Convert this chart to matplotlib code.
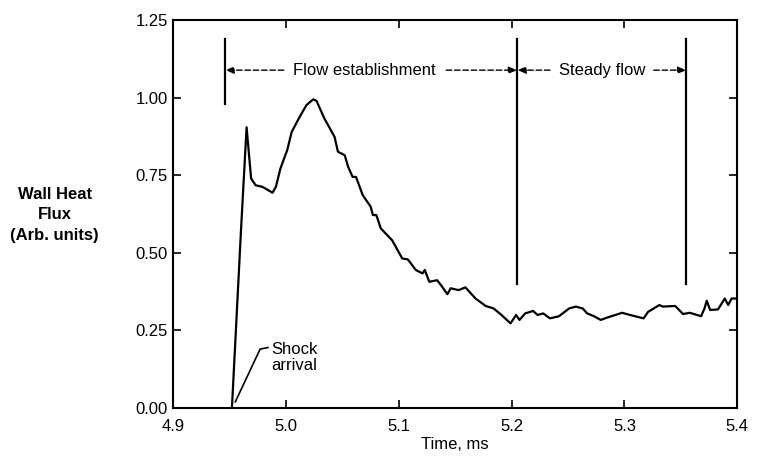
import matplotlib.pyplot as plt

plt.rcParams['font.family'] = ['Liberation Sans', 'DejaVu Sans']

# heat flux trace
time_ms = [4.952, 4.960, 4.965, 4.969, 4.973, 4.979, 4.988, 4.991, 4.995, 5.001,
           5.005, 5.012, 5.018, 5.024, 5.027, 5.034, 5.043, 5.046, 5.052, 5.055,
           5.059, 5.062, 5.068, 5.075, 5.077, 5.080, 5.084, 5.094, 5.103, 5.108,
           5.115, 5.121, 5.123, 5.127, 5.134, 5.138, 5.143, 5.146, 5.153, 5.159,
           5.168, 5.177, 5.184, 5.191, 5.199, 5.204, 5.207, 5.212, 5.219, 5.223,
           5.228, 5.234, 5.242, 5.251, 5.257, 5.263, 5.267, 5.273, 5.279, 5.285,
           5.292, 5.298, 5.305, 5.317, 5.321, 5.331, 5.334, 5.345, 5.352, 5.358,
           5.368, 5.371, 5.373, 5.376, 5.383, 5.389, 5.392, 5.395, 5.398]
flux = [0.000, 0.570, 0.905, 0.740, 0.718, 0.713, 0.694, 0.713, 0.772, 0.831,
        0.890, 0.938, 0.976, 0.995, 0.990, 0.933, 0.874, 0.826, 0.815, 0.778,
        0.745, 0.745, 0.686, 0.649, 0.622, 0.622, 0.579, 0.541, 0.482, 0.479,
        0.445, 0.434, 0.445, 0.407, 0.412, 0.393, 0.367, 0.386, 0.380, 0.389,
        0.353, 0.329, 0.321, 0.300, 0.273, 0.300, 0.284, 0.305, 0.313, 0.300,
        0.305, 0.289, 0.296, 0.321, 0.327, 0.321, 0.305, 0.296, 0.284, 0.292,
        0.300, 0.307, 0.300, 0.289, 0.310, 0.332, 0.327, 0.329, 0.303, 0.307,
        0.296, 0.321, 0.346, 0.316, 0.318, 0.353, 0.332, 0.353, 0.353]

x_ticks = [4.9, 5.0, 5.1, 5.2, 5.3, 5.4]
y_ticks = [0.00, 0.25, 0.50, 0.75, 1.00, 1.25]

# phase boundaries (ms)
t_start = 4.946
t_steady = 5.205
t_end = 5.355

fig = plt.figure(figsize=(7.6, 4.59), dpi=100)
ax = fig.add_axes([0.228, 0.111, 0.742, 0.845])

ax.plot(time_ms, flux, color='black', lw=1.6)

ax.set_xlim(4.9, 5.4)
ax.set_ylim(0, 1.25)
ax.set_xticks(x_ticks)
ax.set_xticklabels([f'{t:.1f}' for t in x_ticks])
ax.set_yticks(y_ticks)
ax.set_yticklabels([f'{v:.2f}' for v in y_ticks])
ax.tick_params(direction='in', length=6, width=1.2, top=True, right=True,
               labelsize=12, colors='black')
ax.tick_params(axis='x', pad=8)
ax.tick_params(axis='y', pad=4)
for s in ax.spines.values():
    s.set_linewidth(1.5)

ax.set_xlabel('Time, ms', fontsize=12, labelpad=2)
fig.text(0.072, 0.532, 'Wall Heat\nFlux\n(Arb. units)', ha='center', va='center',
         fontsize=12, fontweight='bold', linespacing=1.45)

# phase markers
ax.plot([t_start, t_start], [0.98, 1.19], color='black', lw=1.6)
ax.plot([t_steady, t_steady], [0.40, 1.19], color='black', lw=1.6)
ax.plot([t_end, t_end], [0.40, 1.19], color='black', lw=1.6)

ya = 1.089
ax.text(5.069, ya, 'Flow establishment', ha='center', va='center', fontsize=12)
ax.text(5.280, ya, 'Steady flow', ha='center', va='center', fontsize=12)
arrow = dict(arrowstyle='-|>,head_length=0.5,head_width=0.2', color='black',
             lw=1.0, linestyle=(0, (4, 2)), shrinkA=0, shrinkB=0)
ax.annotate('', xy=(t_start, ya), xytext=(4.998, ya), arrowprops=arrow)
ax.annotate('', xy=(t_steady, ya), xytext=(5.142, ya), arrowprops=arrow)
ax.annotate('', xy=(t_steady, ya), xytext=(5.234, ya), arrowprops=arrow)
ax.annotate('', xy=(t_end, ya), xytext=(5.326, ya), arrowprops=arrow)

# shock arrival label with leader
ax.plot([4.955, 4.977, 4.984], [0.02, 0.19, 0.195], color='black', lw=1.2)
ax.text(4.987, 0.163, 'Shock\narrival', ha='left', va='center', fontsize=12,
        linespacing=1.05)

fig.savefig('out.png', dpi=100)
